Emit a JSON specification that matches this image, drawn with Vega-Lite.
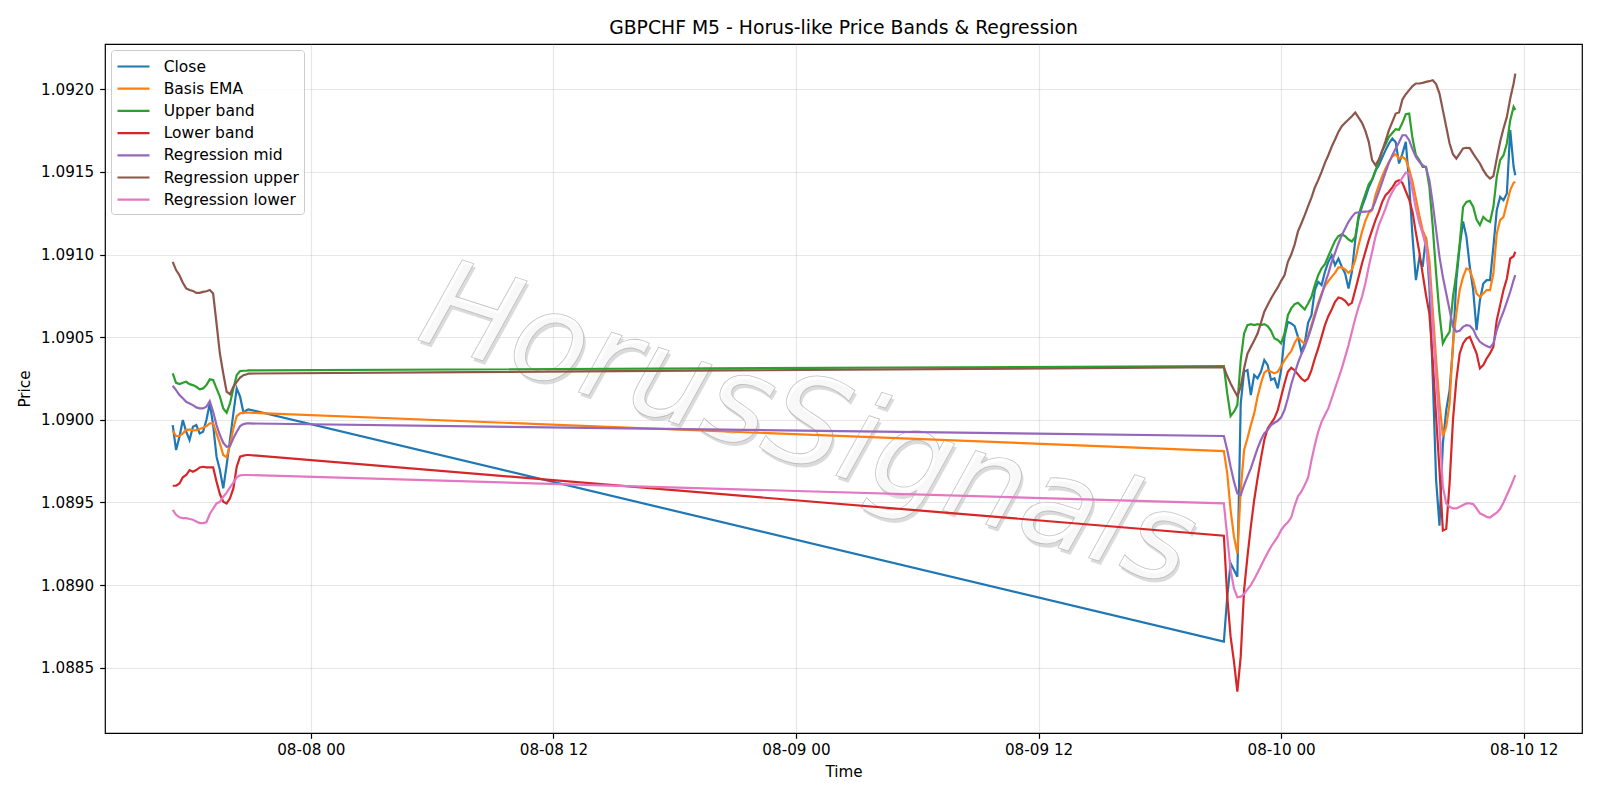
{
  "$schema": "https://vega.github.io/schema/vega-lite/v6.json",
  "width": 1477,
  "height": 689,
  "autosize": {"type": "none"},
  "padding": {"left": 105, "top": 44, "right": 18, "bottom": 67},
  "background": "white",
  "title": {"text": "GBPCHF M5 - Horus-like Price Bands & Regression", "fontSize": 18.8, "fontWeight": "normal", "font": "DejaVu Sans", "color": "#000000", "offset": 6, "anchor": "middle"},
  "config": {
    "font": "DejaVu Sans",
    "view": {"stroke": "#000000", "strokeWidth": 1.2},
    "axis": {"domain": false, "grid": true, "gridColor": "#b0b0b0", "gridOpacity": 0.3, "gridWidth": 1.2, "tickColor": "#000000", "tickSize": 5.3, "tickWidth": 1.2, "labelColor": "#000000", "labelFontSize": 15.2, "labelFont": "DejaVu Sans", "titleFont": "DejaVu Sans", "titleFontSize": 15.2, "titleFontWeight": "normal", "titleColor": "#000000", "labelFlush": false, "labelOverlap": false},
    "legend": {"title": null, "orient": "top-left", "offset": 6, "padding": 5, "fillColor": "rgba(255,255,255,0.8)", "strokeColor": "#cccccc", "strokeWidth": 1, "cornerRadius": 3, "symbolType": "M-1,0L2.2,0", "symbolSize": 400, "symbolStrokeWidth": 2.2, "labelFontSize": 15.5, "labelFont": "DejaVu Sans", "labelColor": "#000000", "labelOffset": 24.7, "rowPadding": 2.2, "labelLimit": 0}
  },
  "encoding": {
    "x": {"field": "time", "type": "temporal",
      "scale": {"domain": [{"year": 2025, "month": 8, "date": 7, "hours": 13, "minutes": 49}, {"year": 2025, "month": 8, "date": 10, "hours": 14, "minutes": 53}], "nice": false},
      "axis": {"title": "Time", "format": "%m-%d %H", "labelPadding": 4.5, "titlePadding": 6,
        "values": [{"year": 2025, "month": 8, "date": 8, "hours": 0}, {"year": 2025, "month": 8, "date": 8, "hours": 12}, {"year": 2025, "month": 8, "date": 9, "hours": 0}, {"year": 2025, "month": 8, "date": 9, "hours": 12}, {"year": 2025, "month": 8, "date": 10, "hours": 0}, {"year": 2025, "month": 8, "date": 10, "hours": 12}]}},
    "y": {"field": "price", "type": "quantitative",
      "scale": {"domain": [1.088105, 1.092274], "nice": false, "zero": false},
      "axis": {"title": "Price", "format": ".4f", "labelPadding": 6, "titlePadding": 8, "values": [1.0885, 1.089, 1.0895, 1.09, 1.0905, 1.091, 1.0915, 1.092]}}
  },
  "layer": [
    {
      "data": {"name": "mark"},
      "mark": {"type": "text", "angle": 18, "fontSize": 123, "font": "DejaVu Sans", "fontStyle": "italic", "align": "center", "baseline": "alphabetic", "fill": "#bdbdbd", "fillOpacity": 0.55, "dx": 3, "dy": 3},
      "encoding": {"text": {"field": "label"}}
    },
    {
      "data": {"name": "mark"},
      "mark": {"type": "text", "angle": 18, "fontSize": 123, "font": "DejaVu Sans", "fontStyle": "italic", "align": "center", "baseline": "alphabetic", "fill": "#ffffff", "fillOpacity": 0.8, "stroke": "#aaaaaa", "strokeWidth": 0.8, "strokeOpacity": 0.7},
      "encoding": {"text": {"field": "label"}}
    },
    {
      "data": {"name": "prices"},
      "transform": [{"fold": ["Close", "Basis EMA", "Upper band", "Lower band", "Regression mid", "Regression upper", "Regression lower"], "as": ["series", "price"]}],
      "mark": {"type": "line", "strokeWidth": 2.2, "clip": true},
      "encoding": {
        "color": {"field": "series", "type": "nominal",
          "scale": {"domain": ["Close", "Basis EMA", "Upper band", "Lower band", "Regression mid", "Regression upper", "Regression lower"], "range": ["#1f77b4", "#ff7f0e", "#2ca02c", "#d62728", "#9467bd", "#8c564b", "#e377c2"]}}
      }
    }
  ],
  "datasets": {
    "mark": [{"time": "2025-08-09T00:01", "price": 1.08974, "label": "HorusSignals"}],
    "prices": [
      {"time": "2025-08-07T17:10", "Close": 1.089968, "Basis EMA": 1.089934, "Upper band": 1.090281, "Lower band": 1.089601, "Regression mid": 1.090206, "Regression upper": 1.090956, "Regression lower": 1.089455},
      {"time": "2025-08-07T17:20", "Close": 1.089817, "Basis EMA": 1.089902, "Upper band": 1.090224, "Lower band": 1.089601, "Regression mid": 1.090180, "Regression upper": 1.090906, "Regression lower": 1.089425},
      {"time": "2025-08-07T17:30", "Close": 1.089898, "Basis EMA": 1.089902, "Upper band": 1.090216, "Lower band": 1.089615, "Regression mid": 1.090150, "Regression upper": 1.090875, "Regression lower": 1.089410},
      {"time": "2025-08-07T17:40", "Close": 1.089999, "Basis EMA": 1.089918, "Upper band": 1.090224, "Lower band": 1.089652, "Regression mid": 1.090130, "Regression upper": 1.090829, "Regression lower": 1.089405},
      {"time": "2025-08-07T17:50", "Close": 1.089928, "Basis EMA": 1.089938, "Upper band": 1.090230, "Lower band": 1.089666, "Regression mid": 1.090109, "Regression upper": 1.090795, "Regression lower": 1.089405},
      {"time": "2025-08-07T18:00", "Close": 1.089878, "Basis EMA": 1.089942, "Upper band": 1.090216, "Lower band": 1.089696, "Regression mid": 1.090099, "Regression upper": 1.090785, "Regression lower": 1.089400},
      {"time": "2025-08-07T18:10", "Close": 1.089958, "Basis EMA": 1.089936, "Upper band": 1.090210, "Lower band": 1.089686, "Regression mid": 1.090089, "Regression upper": 1.090780, "Regression lower": 1.089395},
      {"time": "2025-08-07T18:20", "Close": 1.089968, "Basis EMA": 1.089938, "Upper band": 1.090200, "Lower band": 1.089696, "Regression mid": 1.090075, "Regression upper": 1.090768, "Regression lower": 1.089385},
      {"time": "2025-08-07T18:30", "Close": 1.089918, "Basis EMA": 1.089944, "Upper band": 1.090184, "Lower band": 1.089712, "Regression mid": 1.090069, "Regression upper": 1.090768, "Regression lower": 1.089375},
      {"time": "2025-08-07T18:40", "Close": 1.089928, "Basis EMA": 1.089952, "Upper band": 1.090190, "Lower band": 1.089716, "Regression mid": 1.090069, "Regression upper": 1.090774, "Regression lower": 1.089375},
      {"time": "2025-08-07T18:50", "Close": 1.089999, "Basis EMA": 1.089962, "Upper band": 1.090210, "Lower band": 1.089712, "Regression mid": 1.090079, "Regression upper": 1.090778, "Regression lower": 1.089380},
      {"time": "2025-08-07T19:00", "Close": 1.090099, "Basis EMA": 1.089978, "Upper band": 1.090245, "Lower band": 1.089712, "Regression mid": 1.090113, "Regression upper": 1.090785, "Regression lower": 1.089430},
      {"time": "2025-08-07T19:10", "Close": 1.089968, "Basis EMA": 1.089978, "Upper band": 1.090241, "Lower band": 1.089712, "Regression mid": 1.090049, "Regression upper": 1.090764, "Regression lower": 1.089462},
      {"time": "2025-08-07T19:20", "Close": 1.089777, "Basis EMA": 1.089918, "Upper band": 1.090190, "Lower band": 1.089626, "Regression mid": 1.089968, "Regression upper": 1.090583, "Regression lower": 1.089494},
      {"time": "2025-08-07T19:30", "Close": 1.089696, "Basis EMA": 1.089857, "Upper band": 1.090140, "Lower band": 1.089551, "Regression mid": 1.089908, "Regression upper": 1.090401, "Regression lower": 1.089504},
      {"time": "2025-08-07T19:40", "Close": 1.089585, "Basis EMA": 1.089787, "Upper band": 1.090069, "Lower band": 1.089505, "Regression mid": 1.089861, "Regression upper": 1.090280, "Regression lower": 1.089535},
      {"time": "2025-08-07T19:50", "Close": 1.089726, "Basis EMA": 1.089773, "Upper band": 1.090043, "Lower band": 1.089494, "Regression mid": 1.089837, "Regression upper": 1.090170, "Regression lower": 1.089559},
      {"time": "2025-08-07T20:00", "Close": 1.089878, "Basis EMA": 1.089847, "Upper band": 1.090099, "Lower band": 1.089525, "Regression mid": 1.089841, "Regression upper": 1.090155, "Regression lower": 1.089591},
      {"time": "2025-08-07T20:10", "Close": 1.090039, "Basis EMA": 1.089948, "Upper band": 1.090190, "Lower band": 1.089585, "Regression mid": 1.089888, "Regression upper": 1.090200, "Regression lower": 1.089620},
      {"time": "2025-08-07T20:20", "Close": 1.090190, "Basis EMA": 1.090023, "Upper band": 1.090271, "Lower band": 1.089716, "Regression mid": 1.089928, "Regression upper": 1.090230, "Regression lower": 1.089652},
      {"time": "2025-08-07T20:30", "Close": 1.090140, "Basis EMA": 1.090039, "Upper band": 1.090295, "Lower band": 1.089777, "Regression mid": 1.089962, "Regression upper": 1.090256, "Regression lower": 1.089664},
      {"time": "2025-08-07T20:40", "Close": 1.090043, "Basis EMA": 1.090043, "Upper band": 1.090297, "Lower band": 1.089783, "Regression mid": 1.089974, "Regression upper": 1.090270, "Regression lower": 1.089666},
      {"time": "2025-08-07T20:50", "Close": 1.090059, "Basis EMA": 1.090043, "Upper band": 1.090298, "Lower band": 1.089787, "Regression mid": 1.089978, "Regression upper": 1.090276, "Regression lower": 1.089666},
      {"time": "2025-08-07T20:55", "Close": 1.090063, "Basis EMA": 1.090043, "Upper band": 1.090299, "Lower band": 1.089787, "Regression mid": 1.089978, "Regression upper": 1.090280, "Regression lower": 1.089666},
      {"time": "2025-08-09T21:10", "Close": 1.088658, "Basis EMA": 1.089811, "Upper band": 1.090325, "Lower band": 1.089299, "Regression mid": 1.089902, "Regression upper": 1.090318, "Regression lower": 1.089494},
      {"time": "2025-08-09T21:20", "Close": 1.088930, "Basis EMA": 1.089676, "Upper band": 1.090160, "Lower band": 1.088930, "Regression mid": 1.089817, "Regression upper": 1.090265, "Regression lower": 1.089293},
      {"time": "2025-08-09T21:30", "Close": 1.089132, "Basis EMA": 1.089454, "Upper band": 1.090023, "Lower band": 1.088688, "Regression mid": 1.089716, "Regression upper": 1.090220, "Regression lower": 1.089091},
      {"time": "2025-08-09T21:40", "Close": 1.089091, "Basis EMA": 1.089293, "Upper band": 1.090049, "Lower band": 1.088537, "Regression mid": 1.089626, "Regression upper": 1.090180, "Regression lower": 1.088980},
      {"time": "2025-08-09T21:50", "Close": 1.089051, "Basis EMA": 1.089192, "Upper band": 1.090089, "Lower band": 1.088355, "Regression mid": 1.089555, "Regression upper": 1.090144, "Regression lower": 1.088926},
      {"time": "2025-08-09T22:00", "Close": 1.090099, "Basis EMA": 1.089575, "Upper band": 1.090362, "Lower band": 1.088567, "Regression mid": 1.089545, "Regression upper": 1.090200, "Regression lower": 1.088930},
      {"time": "2025-08-09T22:10", "Close": 1.090291, "Basis EMA": 1.089817, "Upper band": 1.090522, "Lower band": 1.088970, "Regression mid": 1.089605, "Regression upper": 1.090311, "Regression lower": 1.088946},
      {"time": "2025-08-09T22:20", "Close": 1.090301, "Basis EMA": 1.089888, "Upper band": 1.090573, "Lower band": 1.089172, "Regression mid": 1.089656, "Regression upper": 1.090400, "Regression lower": 1.088974},
      {"time": "2025-08-09T22:30", "Close": 1.090150, "Basis EMA": 1.089968, "Upper band": 1.090579, "Lower band": 1.089353, "Regression mid": 1.089706, "Regression upper": 1.090440, "Regression lower": 1.089000},
      {"time": "2025-08-09T22:40", "Close": 1.090271, "Basis EMA": 1.090039, "Upper band": 1.090573, "Lower band": 1.089515, "Regression mid": 1.089767, "Regression upper": 1.090480, "Regression lower": 1.089035},
      {"time": "2025-08-09T22:50", "Close": 1.090251, "Basis EMA": 1.090140, "Upper band": 1.090579, "Lower band": 1.089646, "Regression mid": 1.089827, "Regression upper": 1.090522, "Regression lower": 1.089075},
      {"time": "2025-08-09T23:00", "Close": 1.090291, "Basis EMA": 1.090220, "Upper band": 1.090573, "Lower band": 1.089767, "Regression mid": 1.089878, "Regression upper": 1.090587, "Regression lower": 1.089115},
      {"time": "2025-08-09T23:10", "Close": 1.090362, "Basis EMA": 1.090285, "Upper band": 1.090579, "Lower band": 1.089878, "Regression mid": 1.089918, "Regression upper": 1.090654, "Regression lower": 1.089156},
      {"time": "2025-08-09T23:20", "Close": 1.090331, "Basis EMA": 1.090301, "Upper band": 1.090567, "Lower band": 1.089948, "Regression mid": 1.089938, "Regression upper": 1.090694, "Regression lower": 1.089196},
      {"time": "2025-08-09T23:30", "Close": 1.090241, "Basis EMA": 1.090291, "Upper band": 1.090539, "Lower band": 1.089978, "Regression mid": 1.089968, "Regression upper": 1.090734, "Regression lower": 1.089232},
      {"time": "2025-08-09T23:40", "Close": 1.090251, "Basis EMA": 1.090281, "Upper band": 1.090492, "Lower band": 1.090009, "Regression mid": 1.089982, "Regression upper": 1.090769, "Regression lower": 1.089263},
      {"time": "2025-08-09T23:50", "Close": 1.090190, "Basis EMA": 1.090291, "Upper band": 1.090483, "Lower band": 1.090059, "Regression mid": 1.089994, "Regression upper": 1.090801, "Regression lower": 1.089293},
      {"time": "2025-08-10T00:00", "Close": 1.090301, "Basis EMA": 1.090325, "Upper band": 1.090462, "Lower band": 1.090140, "Regression mid": 1.090015, "Regression upper": 1.090841, "Regression lower": 1.089333},
      {"time": "2025-08-10T00:10", "Close": 1.090503, "Basis EMA": 1.090360, "Upper band": 1.090523, "Lower band": 1.090220, "Regression mid": 1.090059, "Regression upper": 1.090875, "Regression lower": 1.089360},
      {"time": "2025-08-10T00:20", "Close": 1.090593, "Basis EMA": 1.090390, "Upper band": 1.090633, "Lower band": 1.090291, "Regression mid": 1.090130, "Regression upper": 1.090956, "Regression lower": 1.089380},
      {"time": "2025-08-10T00:30", "Close": 1.090583, "Basis EMA": 1.090415, "Upper band": 1.090674, "Lower band": 1.090315, "Regression mid": 1.090215, "Regression upper": 1.091000, "Regression lower": 1.089410},
      {"time": "2025-08-10T00:40", "Close": 1.090567, "Basis EMA": 1.090465, "Upper band": 1.090700, "Lower band": 1.090300, "Regression mid": 1.090280, "Regression upper": 1.091060, "Regression lower": 1.089480},
      {"time": "2025-08-10T00:50", "Close": 1.090502, "Basis EMA": 1.090498, "Upper band": 1.090708, "Lower band": 1.090275, "Regression mid": 1.090345, "Regression upper": 1.091140, "Regression lower": 1.089537},
      {"time": "2025-08-10T01:00", "Close": 1.090412, "Basis EMA": 1.090478, "Upper band": 1.090688, "Lower band": 1.090250, "Regression mid": 1.090397, "Regression upper": 1.091188, "Regression lower": 1.089565},
      {"time": "2025-08-10T01:10", "Close": 1.090462, "Basis EMA": 1.090458, "Upper band": 1.090668, "Lower band": 1.090234, "Regression mid": 1.090442, "Regression upper": 1.091238, "Regression lower": 1.089606},
      {"time": "2025-08-10T01:20", "Close": 1.090587, "Basis EMA": 1.090506, "Upper band": 1.090704, "Lower band": 1.090250, "Regression mid": 1.090498, "Regression upper": 1.091293, "Regression lower": 1.089650},
      {"time": "2025-08-10T01:30", "Close": 1.090633, "Basis EMA": 1.090573, "Upper band": 1.090744, "Lower band": 1.090301, "Regression mid": 1.090559, "Regression upper": 1.091345, "Regression lower": 1.089756},
      {"time": "2025-08-10T01:40", "Close": 1.090785, "Basis EMA": 1.090643, "Upper band": 1.090815, "Lower band": 1.090371, "Regression mid": 1.090627, "Regression upper": 1.091406, "Regression lower": 1.089847},
      {"time": "2025-08-10T01:50", "Close": 1.090835, "Basis EMA": 1.090708, "Upper band": 1.090875, "Lower band": 1.090432, "Regression mid": 1.090694, "Regression upper": 1.091450, "Regression lower": 1.089928},
      {"time": "2025-08-10T02:00", "Close": 1.090815, "Basis EMA": 1.090764, "Upper band": 1.090916, "Lower band": 1.090502, "Regression mid": 1.090754, "Regression upper": 1.091500, "Regression lower": 1.089988},
      {"time": "2025-08-10T02:10", "Close": 1.090896, "Basis EMA": 1.090809, "Upper band": 1.090942, "Lower band": 1.090573, "Regression mid": 1.090825, "Regression upper": 1.091555, "Regression lower": 1.090029},
      {"time": "2025-08-10T02:20", "Close": 1.090956, "Basis EMA": 1.090839, "Upper band": 1.090990, "Lower band": 1.090627, "Regression mid": 1.090885, "Regression upper": 1.091601, "Regression lower": 1.090069},
      {"time": "2025-08-10T02:30", "Close": 1.090996, "Basis EMA": 1.090865, "Upper band": 1.091037, "Lower band": 1.090668, "Regression mid": 1.090956, "Regression upper": 1.091652, "Regression lower": 1.090129},
      {"time": "2025-08-10T02:40", "Close": 1.090936, "Basis EMA": 1.090889, "Upper band": 1.091083, "Lower band": 1.090714, "Regression mid": 1.091010, "Regression upper": 1.091696, "Regression lower": 1.090190},
      {"time": "2025-08-10T02:50", "Close": 1.090976, "Basis EMA": 1.090922, "Upper band": 1.091111, "Lower band": 1.090740, "Regression mid": 1.091067, "Regression upper": 1.091742, "Regression lower": 1.090250},
      {"time": "2025-08-10T03:00", "Close": 1.090926, "Basis EMA": 1.090922, "Upper band": 1.091123, "Lower band": 1.090734, "Regression mid": 1.091117, "Regression upper": 1.091777, "Regression lower": 1.090311},
      {"time": "2025-08-10T03:10", "Close": 1.090885, "Basis EMA": 1.090910, "Upper band": 1.091111, "Lower band": 1.090720, "Regression mid": 1.091158, "Regression upper": 1.091797, "Regression lower": 1.090381},
      {"time": "2025-08-10T03:20", "Close": 1.090795, "Basis EMA": 1.090889, "Upper band": 1.091091, "Lower band": 1.090694, "Regression mid": 1.091198, "Regression upper": 1.091817, "Regression lower": 1.090452},
      {"time": "2025-08-10T03:30", "Close": 1.090896, "Basis EMA": 1.090910, "Upper band": 1.091079, "Lower band": 1.090708, "Regression mid": 1.091228, "Regression upper": 1.091837, "Regression lower": 1.090533},
      {"time": "2025-08-10T03:40", "Close": 1.091087, "Basis EMA": 1.090966, "Upper band": 1.091107, "Lower band": 1.090785, "Regression mid": 1.091252, "Regression upper": 1.091859, "Regression lower": 1.090613},
      {"time": "2025-08-10T03:50", "Close": 1.091220, "Basis EMA": 1.091057, "Upper band": 1.091238, "Lower band": 1.090865, "Regression mid": 1.091256, "Regression upper": 1.091829, "Regression lower": 1.090684},
      {"time": "2025-08-10T04:00", "Close": 1.091290, "Basis EMA": 1.091137, "Upper band": 1.091305, "Lower band": 1.090946, "Regression mid": 1.091258, "Regression upper": 1.091797, "Regression lower": 1.090744},
      {"time": "2025-08-10T04:10", "Close": 1.091345, "Basis EMA": 1.091204, "Upper band": 1.091365, "Lower band": 1.091016, "Regression mid": 1.091260, "Regression upper": 1.091748, "Regression lower": 1.090825},
      {"time": "2025-08-10T04:20", "Close": 1.091406, "Basis EMA": 1.091252, "Upper band": 1.091426, "Lower band": 1.091087, "Regression mid": 1.091262, "Regression upper": 1.091682, "Regression lower": 1.090926},
      {"time": "2025-08-10T04:30", "Close": 1.091450, "Basis EMA": 1.091269, "Upper band": 1.091454, "Lower band": 1.091148, "Regression mid": 1.091273, "Regression upper": 1.091571, "Regression lower": 1.091016},
      {"time": "2025-08-10T04:40", "Close": 1.091507, "Basis EMA": 1.091359, "Upper band": 1.091507, "Lower band": 1.091208, "Regression mid": 1.091325, "Regression upper": 1.091541, "Regression lower": 1.091107},
      {"time": "2025-08-10T04:50", "Close": 1.091541, "Basis EMA": 1.091420, "Upper band": 1.091567, "Lower band": 1.091258, "Regression mid": 1.091380, "Regression upper": 1.091575, "Regression lower": 1.091178},
      {"time": "2025-08-10T05:00", "Close": 1.091587, "Basis EMA": 1.091474, "Upper band": 1.091628, "Lower band": 1.091319, "Regression mid": 1.091440, "Regression upper": 1.091628, "Regression lower": 1.091228},
      {"time": "2025-08-10T05:10", "Close": 1.091632, "Basis EMA": 1.091521, "Upper band": 1.091668, "Lower band": 1.091359, "Regression mid": 1.091500, "Regression upper": 1.091688, "Regression lower": 1.091279},
      {"time": "2025-08-10T05:20", "Close": 1.091672, "Basis EMA": 1.091561, "Upper band": 1.091712, "Lower band": 1.091380, "Regression mid": 1.091555, "Regression upper": 1.091753, "Regression lower": 1.091339},
      {"time": "2025-08-10T05:30", "Close": 1.091702, "Basis EMA": 1.091595, "Upper band": 1.091736, "Lower band": 1.091406, "Regression mid": 1.091601, "Regression upper": 1.091803, "Regression lower": 1.091380},
      {"time": "2025-08-10T05:40", "Close": 1.091680, "Basis EMA": 1.091607, "Upper band": 1.091759, "Lower band": 1.091440, "Regression mid": 1.091642, "Regression upper": 1.091853, "Regression lower": 1.091414},
      {"time": "2025-08-10T05:50", "Close": 1.091551, "Basis EMA": 1.091581, "Upper band": 1.091755, "Lower band": 1.091450, "Regression mid": 1.091680, "Regression upper": 1.091860, "Regression lower": 1.091430},
      {"time": "2025-08-10T06:00", "Close": 1.091611, "Basis EMA": 1.091591, "Upper band": 1.091797, "Lower band": 1.091434, "Regression mid": 1.091722, "Regression upper": 1.091938, "Regression lower": 1.091466},
      {"time": "2025-08-10T06:10", "Close": 1.091682, "Basis EMA": 1.091575, "Upper band": 1.091849, "Lower band": 1.091383, "Regression mid": 1.091722, "Regression upper": 1.091970, "Regression lower": 1.091496},
      {"time": "2025-08-10T06:20", "Close": 1.091430, "Basis EMA": 1.091515, "Upper band": 1.091853, "Lower band": 1.091333, "Regression mid": 1.091692, "Regression upper": 1.091995, "Regression lower": 1.091490},
      {"time": "2025-08-10T06:30", "Close": 1.091107, "Basis EMA": 1.091440, "Upper band": 1.091702, "Lower band": 1.091258, "Regression mid": 1.091636, "Regression upper": 1.092019, "Regression lower": 1.091386},
      {"time": "2025-08-10T06:40", "Close": 1.090845, "Basis EMA": 1.091339, "Upper band": 1.091601, "Lower band": 1.091131, "Regression mid": 1.091591, "Regression upper": 1.092035, "Regression lower": 1.091279},
      {"time": "2025-08-10T06:50", "Close": 1.090976, "Basis EMA": 1.091238, "Upper band": 1.091571, "Lower band": 1.091017, "Regression mid": 1.091561, "Regression upper": 1.092035, "Regression lower": 1.091192},
      {"time": "2025-08-10T07:00", "Close": 1.090926, "Basis EMA": 1.091148, "Upper band": 1.091531, "Lower band": 1.090885, "Regression mid": 1.091541, "Regression upper": 1.092039, "Regression lower": 1.091127},
      {"time": "2025-08-10T07:10", "Close": 1.091107, "Basis EMA": 1.091097, "Upper band": 1.091531, "Lower band": 1.090754, "Regression mid": 1.091527, "Regression upper": 1.092045, "Regression lower": 1.091047},
      {"time": "2025-08-10T07:20", "Close": 1.090805, "Basis EMA": 1.090966, "Upper band": 1.091410, "Lower band": 1.090643, "Regression mid": 1.091450, "Regression upper": 1.092049, "Regression lower": 1.090885},
      {"time": "2025-08-10T07:30", "Close": 1.090260, "Basis EMA": 1.090664, "Upper band": 1.091168, "Lower band": 1.090361, "Regression mid": 1.091309, "Regression upper": 1.092055, "Regression lower": 1.090563},
      {"time": "2025-08-10T07:40", "Close": 1.089635, "Basis EMA": 1.090361, "Upper band": 1.090885, "Lower band": 1.090018, "Regression mid": 1.091148, "Regression upper": 1.092031, "Regression lower": 1.090260},
      {"time": "2025-08-10T07:50", "Close": 1.089360, "Basis EMA": 1.090099, "Upper band": 1.090643, "Lower band": 1.089696, "Regression mid": 1.090986, "Regression upper": 1.091974, "Regression lower": 1.089958},
      {"time": "2025-08-10T08:00", "Close": 1.089857, "Basis EMA": 1.089901, "Upper band": 1.090462, "Lower band": 1.089330, "Regression mid": 1.090865, "Regression upper": 1.091874, "Regression lower": 1.089595},
      {"time": "2025-08-10T08:10", "Close": 1.090059, "Basis EMA": 1.089958, "Upper band": 1.090502, "Lower band": 1.089340, "Regression mid": 1.090764, "Regression upper": 1.091773, "Regression lower": 1.089494},
      {"time": "2025-08-10T08:20", "Close": 1.090180, "Basis EMA": 1.090099, "Upper band": 1.090533, "Lower band": 1.089615, "Regression mid": 1.090664, "Regression upper": 1.091672, "Regression lower": 1.089474},
      {"time": "2025-08-10T08:30", "Close": 1.090442, "Basis EMA": 1.090462, "Upper band": 1.090744, "Lower band": 1.089998, "Regression mid": 1.090563, "Regression upper": 1.091607, "Regression lower": 1.089464},
      {"time": "2025-08-10T08:40", "Close": 1.090845, "Basis EMA": 1.090643, "Upper band": 1.090885, "Lower band": 1.090240, "Regression mid": 1.090533, "Regression upper": 1.091581, "Regression lower": 1.089464},
      {"time": "2025-08-10T08:50", "Close": 1.091050, "Basis EMA": 1.090785, "Upper band": 1.091067, "Lower band": 1.090402, "Regression mid": 1.090539, "Regression upper": 1.091611, "Regression lower": 1.089474},
      {"time": "2025-08-10T09:00", "Close": 1.091200, "Basis EMA": 1.090865, "Upper band": 1.091289, "Lower band": 1.090462, "Regression mid": 1.090563, "Regression upper": 1.091642, "Regression lower": 1.089484},
      {"time": "2025-08-10T09:10", "Close": 1.091107, "Basis EMA": 1.090916, "Upper band": 1.091319, "Lower band": 1.090492, "Regression mid": 1.090573, "Regression upper": 1.091646, "Regression lower": 1.089494},
      {"time": "2025-08-10T09:20", "Close": 1.090926, "Basis EMA": 1.090906, "Upper band": 1.091325, "Lower band": 1.090502, "Regression mid": 1.090569, "Regression upper": 1.091644, "Regression lower": 1.089494},
      {"time": "2025-08-10T09:30", "Close": 1.090785, "Basis EMA": 1.090845, "Upper band": 1.091289, "Lower band": 1.090452, "Regression mid": 1.090547, "Regression upper": 1.091611, "Regression lower": 1.089490},
      {"time": "2025-08-10T09:40", "Close": 1.090543, "Basis EMA": 1.090764, "Upper band": 1.091212, "Lower band": 1.090402, "Regression mid": 1.090502, "Regression upper": 1.091581, "Regression lower": 1.089464},
      {"time": "2025-08-10T09:50", "Close": 1.090724, "Basis EMA": 1.090744, "Upper band": 1.091178, "Lower band": 1.090311, "Regression mid": 1.090472, "Regression upper": 1.091551, "Regression lower": 1.089434},
      {"time": "2025-08-10T10:00", "Close": 1.090825, "Basis EMA": 1.090764, "Upper band": 1.091228, "Lower band": 1.090331, "Regression mid": 1.090458, "Regression upper": 1.091511, "Regression lower": 1.089424},
      {"time": "2025-08-10T10:10", "Close": 1.090845, "Basis EMA": 1.090785, "Upper band": 1.091208, "Lower band": 1.090371, "Regression mid": 1.090446, "Regression upper": 1.091480, "Regression lower": 1.089413},
      {"time": "2025-08-10T10:20", "Close": 1.090845, "Basis EMA": 1.090785, "Upper band": 1.091198, "Lower band": 1.090402, "Regression mid": 1.090438, "Regression upper": 1.091460, "Regression lower": 1.089409},
      {"time": "2025-08-10T10:30", "Close": 1.091047, "Basis EMA": 1.090885, "Upper band": 1.091289, "Lower band": 1.090442, "Regression mid": 1.090462, "Regression upper": 1.091474, "Regression lower": 1.089424},
      {"time": "2025-08-10T10:40", "Close": 1.091269, "Basis EMA": 1.091127, "Upper band": 1.091470, "Lower band": 1.090603, "Regression mid": 1.090543, "Regression upper": 1.091581, "Regression lower": 1.089438},
      {"time": "2025-08-10T10:50", "Close": 1.091349, "Basis EMA": 1.091208, "Upper band": 1.091571, "Lower band": 1.090694, "Regression mid": 1.090603, "Regression upper": 1.091682, "Regression lower": 1.089460},
      {"time": "2025-08-10T11:00", "Close": 1.091329, "Basis EMA": 1.091228, "Upper band": 1.091601, "Lower band": 1.090785, "Regression mid": 1.090654, "Regression upper": 1.091763, "Regression lower": 1.089500},
      {"time": "2025-08-10T11:10", "Close": 1.091369, "Basis EMA": 1.091309, "Upper band": 1.091672, "Lower band": 1.090855, "Regression mid": 1.090714, "Regression upper": 1.091833, "Regression lower": 1.089545},
      {"time": "2025-08-10T11:20", "Close": 1.091753, "Basis EMA": 1.091390, "Upper band": 1.091813, "Lower band": 1.090976, "Regression mid": 1.090775, "Regression upper": 1.091944, "Regression lower": 1.089590},
      {"time": "2025-08-10T11:30", "Close": 1.091531, "Basis EMA": 1.091434, "Upper band": 1.091894, "Lower band": 1.090990, "Regression mid": 1.090845, "Regression upper": 1.092035, "Regression lower": 1.089640},
      {"time": "2025-08-10T11:35", "Close": 1.091480, "Basis EMA": 1.091440, "Upper band": 1.091874, "Lower band": 1.091017, "Regression mid": 1.090875, "Regression upper": 1.092095, "Regression lower": 1.089665}
    ]
  }
}
